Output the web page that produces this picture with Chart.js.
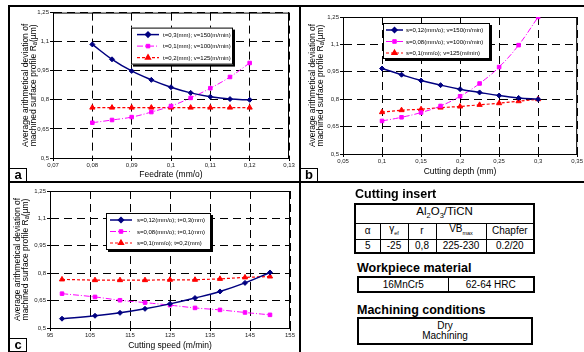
<!DOCTYPE html>
<html>
<head>
<meta charset="utf-8">
<script src="https://cdn.jsdelivr.net/npm/chart.js@4.4.1/dist/chart.umd.min.js"></script>
<style>
    body { margin: 0; width: 584px; height: 352px; background: #fff; position: relative; overflow: hidden;
           font-family: "Liberation Sans", Arial, sans-serif; color: #000; }
    canvas { position: absolute; }
    .rule { position: absolute; background: #000; }
    .tag { position: absolute; box-sizing: border-box; width: 18px; height: 14px; border: 1px solid #000; background: #fff;
           font: bold 13px "Liberation Sans", Arial, sans-serif; text-align: center; line-height: 11px; }
    .head { position: absolute; font: bold 12.5px "Liberation Sans", Arial, sans-serif; }
    table { position: absolute; border-collapse: collapse; border: 2px solid #000; table-layout: fixed; }
    td { border: 1px solid #000; text-align: center; padding: 0; font-size: 10px; line-height: 10px; }
</style>
</head>
<body>

<!-- panel frame -->
<div class="rule" style="left:8px;top:5px;width:576px;height:2px"></div>
<div class="rule" style="left:8px;top:5px;width:2px;height:347px"></div>
<div class="rule" style="left:299px;top:5px;width:2px;height:347px"></div>
<div class="rule" style="left:8px;top:181px;width:576px;height:2px"></div>

<canvas id="chartFeed" width="290" height="172" style="left:10px;top:8px"></canvas>
<canvas id="chartDepth" width="282" height="172" style="left:302px;top:8px"></canvas>
<canvas id="chartSpeed" width="290" height="168" style="left:10px;top:184px"></canvas>

<div class="tag" style="left:9px;top:168px">a</div>
<div class="tag" style="left:300px;top:168px">b</div>
<div class="tag" style="left:9px;top:338px">c</div>

<!-- tool / material / conditions -->
<div class="head" style="left:355px;top:187px">Cutting insert</div>
<table style="left:354px;top:203px;width:179px;height:49px">
    <colgroup><col style="width:25px"><col style="width:28px"><col style="width:28px"><col style="width:50px"><col style="width:48px"></colgroup>
    <tr style="height:19px"><td colspan="5" style="font-size:11.5px">Al<sub style="font-size:7.5px">2</sub>O<sub style="font-size:7.5px">3</sub>/TiCN</td></tr>
    <tr style="height:16px"><td>α</td><td>γ<sub style="font-size:5.5px">ef</sub></td><td>r</td><td>VB<sub style="font-size:5.5px">max</sub></td><td>Chapfer</td></tr>
    <tr style="height:14px"><td>5</td><td>-25</td><td>0,8</td><td>225-230</td><td>0.2/20</td></tr>
</table>

<div class="head" style="left:357px;top:261px">Workpiece material</div>
<table style="left:357px;top:276px;width:176px;height:17px">
    <colgroup><col style="width:90px"><col style="width:86px"></colgroup>
    <tr><td>16MnCr5</td><td>62-64 HRC</td></tr>
</table>

<div class="head" style="left:357px;top:303px">Machining conditions</div>
<table style="left:357px;top:317px;width:176px;height:28px">
    <tr><td>Dry<br>Machining</td></tr>
</table>

<script>
// ---- data ----
const raTicks = [0.5, 0.65, 0.8, 0.95, 1.1, 1.25];

// a) feedrate (mm/o)
const feedrate = [0.08, 0.085, 0.09, 0.095, 0.1, 0.105, 0.11, 0.115, 0.12];
const feedTicks = [0.07, 0.08, 0.09, 0.1, 0.11, 0.12, 0.13];
const raFeedT03 = [1.086, 1.009, 0.949, 0.903, 0.865, 0.836, 0.816, 0.804, 0.80];
const raFeedT01 = [0.682, 0.696, 0.711, 0.737, 0.768, 0.81, 0.86, 0.918, 0.99];
const raFeedT02 = [0.76, 0.76, 0.76, 0.76, 0.76, 0.76, 0.76, 0.76, 0.76];

// b) cutting depth (mm)
const depth = [0.1, 0.125, 0.15, 0.175, 0.2, 0.225, 0.25, 0.275, 0.3];
const depthTicks = [0.05, 0.1, 0.15, 0.2, 0.25, 0.3, 0.35];
const raDepthS012 = [0.968, 0.934, 0.902, 0.877, 0.855, 0.837, 0.82, 0.807, 0.80];
const raDepthS008 = [0.681, 0.701, 0.727, 0.763, 0.816, 0.886, 0.976, 1.096, 1.25];
const raDepthS01 = [0.729, 0.74, 0.745, 0.754, 0.76, 0.769, 0.778, 0.789, 0.80];

// c) cutting speed (m/min)
const speed = [98, 106.25, 112.5, 118.75, 125, 131.25, 137.5, 143.75, 150];
const speedTicks = [95, 105, 115, 125, 135, 145, 155];
const raSpeedS012 = [0.551, 0.567, 0.583, 0.605, 0.632, 0.664, 0.70, 0.747, 0.804];
const raSpeedS008 = [0.688, 0.670, 0.652, 0.639, 0.625, 0.610, 0.599, 0.585, 0.572];
const raSpeedS01 = [0.766, 0.762, 0.762, 0.762, 0.764, 0.764, 0.769, 0.777, 0.782];

const FONT = '"Liberation Sans", Arial, sans-serif';
const comma = v => String(+Number(v).toFixed(3)).replace('.', ',');

// series look (same three styles in every panel)
const looks = [
    { color: '#000080', pointStyle: 'rectRot', pointRadius: 2.5, borderWidth: 1.5, borderDash: [], tension: 0.4 },
    { color: '#ff00ff', pointStyle: 'rect', pointRadius: 2.5, borderWidth: 1, borderDash: [6, 2, 1, 2], tension: 0.4 },
    { color: '#ff0000', pointStyle: 'triangle', pointRadius: 3, borderWidth: 1.2, borderDash: [3, 2], tension: 0 }
];

// box round the plot area
const plotBorder = {
    id: 'plotBorder',
    beforeDatasetsDraw(chart) {
        const { ctx, chartArea: a } = chart;
        ctx.save();
        ctx.strokeStyle = '#000';
        ctx.lineWidth = 1;
        ctx.setLineDash([]);
        ctx.strokeRect(a.left + 0.5, a.top + 0.5, a.right - a.left - 1, a.bottom - a.top);
        ctx.restore();
    }
};

// framed legend with shadow, placed inside the plot
const boxLegend = {
    id: 'boxLegend',
    afterDatasetsDraw(chart, args, opts) {
        const { ctx, chartArea: a } = chart;
        const x = a.left + opts.x, y = a.top + opts.y;
        const [l0, l1, tx] = opts.cols;
        ctx.save();
        ctx.setLineDash([]);
        ctx.fillStyle = '#000';
        ctx.fillRect(x + 2, y + 2, opts.w, opts.h);
        ctx.fillStyle = '#fff';
        ctx.fillRect(x, y, opts.w, opts.h);
        ctx.strokeStyle = '#000';
        ctx.lineWidth = 1;
        ctx.strokeRect(x + 0.5, y + 0.5, opts.w - 1, opts.h - 1);

        chart.data.datasets.forEach((ds, i) => {
            const ly = y + 7 + i * 11.5;
            ctx.strokeStyle = ds.borderColor;
            ctx.lineWidth = ds.borderWidth;
            ctx.setLineDash(ds.borderDash);
            ctx.beginPath();
            ctx.moveTo(x + l0, ly);
            ctx.lineTo(x + l1, ly);
            ctx.stroke();
            ctx.setLineDash([]);
            ctx.fillStyle = ds.borderColor;
            Chart.helpers.drawPoint(ctx, { pointStyle: ds.pointStyle, radius: ds.pointRadius, rotation: 0, borderWidth: 1 }, x + (l0 + l1) / 2, ly);
            ctx.fillStyle = '#000';
            ctx.font = '6px ' + FONT;
            ctx.textBaseline = 'middle';
            ctx.fillText(ds.label, x + tx, ly + 0.5);
        });
        ctx.restore();
    }
};

function makeChart(id, xs, ysList, labels, xTicks, xTitle, box) {
    const datasets = ysList.map((ys, i) => ({
        label: labels[i],
        data: xs.map((x, k) => ({ x: x, y: ys[k] })),
        borderColor: looks[i].color,
        backgroundColor: looks[i].color,
        pointBackgroundColor: looks[i].color,
        pointBorderColor: looks[i].color,
        pointStyle: looks[i].pointStyle,
        pointRadius: looks[i].pointRadius,
        pointBorderWidth: 1,
        borderWidth: looks[i].borderWidth,
        borderDash: looks[i].borderDash,
        tension: looks[i].tension,
        fill: false
    }));

    const tickFont = { family: FONT, size: 6 };
    const grid = { color: '#000', lineWidth: 1, tickLength: 3, tickColor: '#000', tickBorderDash: [] };

    return new Chart(document.getElementById(id), {
        type: 'line',
        data: { datasets },
        options: {
            responsive: false,
            animation: false,
            layout: { padding: box.pad, autoPadding: false },
            plugins: { legend: { display: false }, tooltip: { enabled: false }, boxLegend: box.legend },
            scales: {
                x: {
                    type: 'linear',
                    min: xTicks[0],
                    max: xTicks[xTicks.length - 1],
                    afterBuildTicks: s => { s.ticks = xTicks.map(v => ({ value: v })); },
                    afterFit: s => { s.height = box.xh; },
                    grid: grid,
                    border: { display: true, color: '#000', dash: [8, 5] },
                    ticks: { font: tickFont, color: '#222', padding: 1, maxRotation: 0, callback: comma },
                    title: { display: true, text: xTitle, color: '#000', font: { family: FONT, size: 8.5 }, padding: { top: 0, bottom: box.xtPad } }
                },
                y: {
                    type: 'linear',
                    min: raTicks[0],
                    max: raTicks[raTicks.length - 1],
                    afterBuildTicks: s => { s.ticks = raTicks.map(v => ({ value: v })); },
                    afterFit: s => { s.width = box.yw; },
                    grid: grid,
                    border: { display: true, color: '#000', dash: [8, 5] },
                    ticks: { font: tickFont, color: '#222', padding: 1, callback: comma },
                    title: {
                        display: true,
                        text: ['Average arithmetical deviation of', 'machined surface profile Rₐ(µm)'],
                        color: '#000',
                        font: { family: FONT, size: 8.5, lineHeight: 1 },
                        padding: { top: box.ytPad, bottom: 0 }
                    }
                }
            }
        },
        plugins: [plotBorder, boxLegend]
    });
}

makeChart('chartFeed', feedrate, [raFeedT03, raFeedT01, raFeedT02],
    ['t=0,3(mm); v=150(m/min)', 't=0,1(mm); v=100(m/min)', 't=0,2(mm); v=125(m/min)'],
    feedTicks, 'Feedrate (mm/o)',
    { pad: { top: 3, right: 11, left: 0, bottom: 0 }, yw: 43, xh: 22, ytPad: 11, xtPad: 0,
      legend: { x: 78, y: 15, w: 102, h: 37, cols: [6, 28, 32] } });

makeChart('chartDepth', depth, [raDepthS012, raDepthS008, raDepthS01],
    ['s=0,12(mm/o); v=150(m/min)', 's=0,08(mm/o); v=100(m/min)', 's=0,1(mm/o); v=125(m/min)'],
    depthTicks, 'Cutting depth (mm)',
    { pad: { top: 9, right: 5, left: 0, bottom: 0 }, yw: 41, xh: 26, ytPad: 6, xtPad: 3,
      legend: { x: 40, y: 6, w: 107, h: 36, cols: [3, 20, 23] } });

makeChart('chartSpeed', speed, [raSpeedS012, raSpeedS008, raSpeedS01],
    ['s=0,12(mm/o); t=0,3(mm)', 's=0,08(mm/o); t=0,1(mm)', 's=0,1(mm/o); t=0,2(mm)'],
    speedTicks, 'Cutting speed (m/min)',
    { pad: { top: 7, right: 10, left: 0, bottom: 0 }, yw: 40, xh: 24, ytPad: 3, xtPad: 1,
      legend: { x: 56, y: 22, w: 105, h: 37, cols: [4, 26, 31] } });
</script>
</body>
</html>
